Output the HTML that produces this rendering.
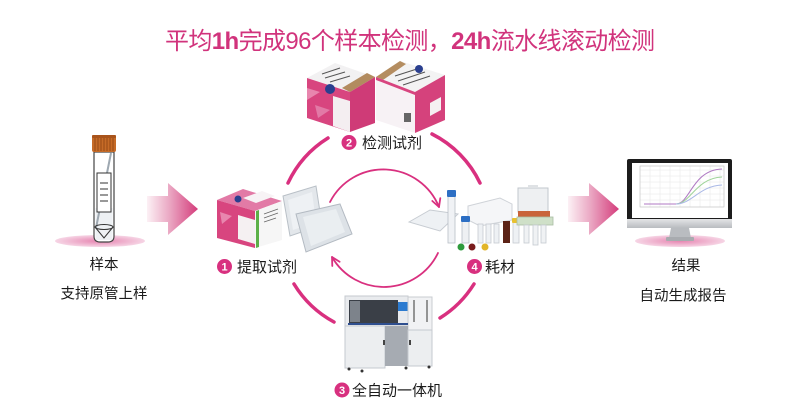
<!DOCTYPE html>
<html><head><meta charset="utf-8"><style>
html,body{margin:0;padding:0;background:#fff;}
svg{display:block;}
text{font-family:"Liberation Sans","Noto Sans CJK SC",sans-serif;}
</style></head><body>
<svg width="808" height="417" viewBox="0 0 808 417" xmlns="http://www.w3.org/2000/svg">
<defs>
 <linearGradient id="arr" x1="0" x2="1" y1="0" y2="0">
  <stop offset="0" stop-color="#fcf1f5"/>
  <stop offset="0.45" stop-color="#eaa6c2"/>
  <stop offset="1" stop-color="#d43c7b"/>
 </linearGradient>
 <radialGradient id="sh" cx="0.5" cy="0.5" r="0.5">
  <stop offset="0" stop-color="#e684b0"/>
  <stop offset="1" stop-color="#f6d5e5"/>
 </radialGradient>
 <linearGradient id="chin" x1="0" x2="0" y1="0" y2="1">
  <stop offset="0" stop-color="#e4e5e7"/>
  <stop offset="1" stop-color="#b9bcc0"/>
 </linearGradient>
</defs>

<!-- Title -->
<text x="165" y="49" font-size="24" fill="#d1337c" textLength="490" lengthAdjust="spacing">平均<tspan font-weight="bold">1h</tspan>完成96个样本检测，<tspan font-weight="bold">24h</tspan>流水线滚动检测</text>

<!-- Sample tube -->
<ellipse cx="100" cy="241" rx="45" ry="6" fill="url(#sh)"/>
<path d="M94,152 L94,236 Q94,242 100,242 L108,242 Q114,242 114,236 L114,152 Z" fill="#fff" stroke="#444" stroke-width="1.2"/>
<rect x="95.5" y="208" width="17" height="32" fill="#eef1f4"/>
<line x1="111" y1="153" x2="96" y2="228" stroke="#9ea8b1" stroke-width="2"/>
<rect x="97" y="173" width="14" height="39" fill="#fff" stroke="#333" stroke-width="1"/>
<g stroke="#333" stroke-width="1">
 <line x1="100" y1="183" x2="108" y2="183"/>
 <line x1="100" y1="189" x2="108" y2="189"/>
 <line x1="100" y1="195" x2="108" y2="195"/>
 <line x1="100" y1="201" x2="108" y2="201"/>
</g>
<ellipse cx="104" cy="227" rx="9" ry="2.5" fill="none" stroke="#333" stroke-width="1"/>
<polyline points="95,227 104,238 113,227" fill="none" stroke="#333" stroke-width="1"/>
<rect x="92" y="135" width="24" height="17" rx="2" fill="#c66b27"/>
<g stroke="#8a4211" stroke-width="0.8">
 <line x1="95" y1="138" x2="95" y2="151"/><line x1="98" y1="138" x2="98" y2="151"/>
 <line x1="101" y1="138" x2="101" y2="151"/><line x1="104" y1="138" x2="104" y2="151"/>
 <line x1="107" y1="138" x2="107" y2="151"/><line x1="110" y1="138" x2="110" y2="151"/>
 <line x1="113" y1="138" x2="113" y2="151"/>
</g>
<rect x="92" y="135" width="24" height="3" rx="1" fill="#a9541b"/>

<text x="104" y="269.5" font-size="14.5" fill="#1a1a1a" text-anchor="middle">样本</text>
<text x="104" y="298.5" font-size="14.5" fill="#1a1a1a" text-anchor="middle">支持原管上样</text>

<!-- Big arrows -->
<path d="M147,196 L168,196 L168,183 L198,209 L168,235 L168,222 L147,222 Z" fill="url(#arr)"/>
<path d="M568,196 L589,196 L589,183 L619,209 L589,235 L589,222 L568,222 Z" fill="url(#arr)"/>

<!-- Outer arcs -->
<g fill="none" stroke="#d9307f" stroke-width="3.5" stroke-linecap="round">
 <path d="M288,183 A106,106 0 0 1 328,138"/>
 <path d="M432,134 A106,106 0 0 1 480,183"/>
 <path d="M474,284 A106,106 0 0 1 440,318"/>
 <path d="M334,322 A106,106 0 0 1 294,284"/>
</g>
<!-- Inner arcs -->
<g fill="none" stroke="#d9307f" stroke-width="1.8" stroke-linecap="round" stroke-linejoin="round">
 <path d="M330,202 A60,60 0 0 1 439,207"/>
 <polyline points="440.3,198.1 439,207 432.3,201"/>
 <path d="M438,253 A60,60 0 0 1 332,257"/>
 <polyline points="332.3,266 332,257 339.6,261.8"/>
</g>

<!-- Box 2 (detection kits) -->
<polygon points="307,78 335,63 375,77 350,92" fill="#f2f1f2"/>
<polygon points="342,88 350,92 375,77 367,73" fill="#b28b5f"/>
<g stroke="#555" stroke-width="1">
 <line x1="322" y1="74" x2="340" y2="68"/><line x1="325" y1="78" x2="345" y2="72"/><line x1="330" y1="82" x2="350" y2="76"/>
</g>
<polygon points="307,78 350,92 350,132 307,118" fill="#d8457f"/>
<polygon points="307,88 320,92 307,100" fill="#e886ae"/>
<polygon points="315,105 330,110 318,118" fill="#e27aa6"/>
<polygon points="333,96 350,101 350,132 333,126" fill="#f4eef1"/>
<circle cx="330" cy="89" r="5" fill="#2a3f8f"/>
<polygon points="350,92 375,77 375,123 350,132" fill="#cf3b77"/>
<polygon points="376,77 400,61 445,75 415,92" fill="#f3f3f3"/>
<polygon points="376,77 383,80 406,64 400,61" fill="#b48d60"/>
<g stroke="#555" stroke-width="1">
 <line x1="395" y1="76" x2="420" y2="68"/><line x1="398" y1="81" x2="425" y2="72"/><line x1="403" y1="85" x2="430" y2="76"/>
</g>
<circle cx="419" cy="69" r="4" fill="#2a3f8f"/>
<polygon points="376,77 415,92 415,133 376,120" fill="#f7f2f5"/>
<polygon points="376,77 415,92 415,95 376,80" fill="#d8457f"/>
<rect x="404" y="113" width="7" height="9" fill="#666"/>
<polygon points="415,92 445,75 445,120 415,133" fill="#d5427c"/>
<polygon points="430,103 441,97 441,110 430,116" fill="#f5f0f2"/>

<!-- Box 1 (extraction kit) and trays -->
<polygon points="283,196 316,186 322,225 290,236" fill="#e3e7eb" stroke="#b9c0c7" stroke-width="1"/>
<polygon points="288,200 312,192 316,222 293,230" fill="#eef1f4"/>
<polygon points="296,214 340,204 352,234 306,252" fill="#dde2e7" stroke="#b3bac2" stroke-width="1"/>
<polygon points="303,217 336,209 345,232 311,246" fill="#eaeef1"/>
<polygon points="217,200 243,189 282,201 255,211" fill="#e27aa6"/>
<polygon points="243,198 262,191 275,196 256,203" fill="#f7f3f5"/>
<circle cx="238" cy="199" r="3.5" fill="#2a3f8f"/>
<polygon points="217,200 255,211 255,248 217,238" fill="#d8457f"/>
<polygon points="220,212 232,216 222,224" fill="#e886ae"/>
<polygon points="238,215 255,220 255,244 238,239" fill="#f5f0f2"/>
<polygon points="255,211 282,201 282,240 255,248" fill="#f6f6f6"/>
<polygon points="256,211 259,210 259,247 256,248" fill="#5db048"/>
<g stroke="#666" stroke-width="0.8">
 <line x1="264" y1="214" x2="278" y2="209"/><line x1="264" y1="218" x2="278" y2="213"/><line x1="264" y1="222" x2="276" y2="218"/>
</g>

<!-- Consumables -->
<polygon points="409,222 430,210 458,214 440,231" fill="#eef1f4" stroke="#c7ccd2" stroke-width="1"/>
<rect x="448" y="195" width="7" height="48" fill="#f0f2f5" stroke="#b8bec6" stroke-width="0.8"/>
<rect x="447" y="190" width="9" height="7" rx="1" fill="#2d6fc4"/>
<polygon points="468,206 500,198 512,204 512,220 480,226 468,220" fill="#f5f6f8" stroke="#cfd3d8" stroke-width="1"/>
<rect x="462" y="221" width="7" height="22" fill="#eef0f3" stroke="#b8bec6" stroke-width="0.8"/>
<rect x="461" y="216" width="9" height="6" rx="1" fill="#2d6fc4"/>
<g fill="#eef1f4" stroke="#c5cad0" stroke-width="0.8">
 <rect x="478" y="224" width="5" height="19"/><rect x="486" y="224" width="5" height="19"/><rect x="494" y="224" width="5" height="19"/>
</g>
<rect x="503" y="221" width="7" height="22" fill="#5c2316"/>
<rect x="513" y="222" width="6" height="21" fill="#eef1f4" stroke="#c5cad0" stroke-width="0.8"/>
<rect x="512" y="218" width="8" height="5" rx="1" fill="#e8c130"/>
<rect x="518" y="188" width="30" height="24" fill="#eef0f2" stroke="#c2c7cd" stroke-width="1"/>
<rect x="528" y="185" width="10" height="3" fill="#dfe2e5"/>
<rect x="518" y="211" width="32" height="6" fill="#c9643a"/>
<rect x="517" y="217" width="36" height="8" fill="#cfe0c8" stroke="#a9bda3" stroke-width="0.8"/>
<g fill="#f0f2f4" stroke="#c5cad0" stroke-width="0.8">
 <rect x="524" y="225" width="5" height="18"/><rect x="533" y="225" width="5" height="20"/><rect x="541" y="225" width="5" height="18"/>
</g>
<circle cx="461" cy="247" r="3.5" fill="#2e9b3c"/>
<circle cx="472" cy="247" r="3.5" fill="#7a1c1c"/>
<circle cx="485" cy="247" r="3.5" fill="#e2b528"/>

<!-- Machine -->
<rect x="345" y="296" width="63" height="30" fill="#e9ebee" stroke="#c5c9cf" stroke-width="1"/>
<rect x="349" y="300" width="49" height="23" fill="#3a3f47"/>
<rect x="350" y="301" width="10" height="21" fill="#7d838b"/>
<rect x="398" y="302" width="10" height="9" fill="#2c7bd0"/>
<rect x="408" y="297" width="24" height="33" fill="#f1f2f4" stroke="#c9ccd1" stroke-width="1"/>
<line x1="414" y1="300" x2="414" y2="322" stroke="#555" stroke-width="1.2"/>
<line x1="427" y1="300" x2="427" y2="322" stroke="#555" stroke-width="1.2"/>
<rect x="348" y="323" width="60" height="2" fill="#2f4f8f"/>
<rect x="345" y="326" width="40" height="42" fill="#eceef0" stroke="#c5c9cf" stroke-width="1"/>
<rect x="385" y="326" width="23" height="40" fill="#a6abb2"/>
<rect x="408" y="330" width="24" height="36" fill="#eceef0" stroke="#c5c9cf" stroke-width="1"/>
<rect x="383" y="340" width="2" height="5" fill="#444"/>
<rect x="409" y="340" width="2" height="5" fill="#444"/>
<g fill="#333">
 <circle cx="349" cy="369" r="1.5"/><circle cx="362" cy="371" r="1.5"/><circle cx="406" cy="368" r="1.5"/><circle cx="429" cy="367" r="1.5"/>
</g>

<!-- Monitor -->
<ellipse cx="680" cy="241" rx="45" ry="6" fill="url(#sh)"/>
<rect x="627" y="159" width="105" height="64" rx="2" fill="#1c1c1c"/>
<rect x="632" y="163" width="96" height="55" fill="#fff"/>
<g stroke="#e6e6e6" stroke-width="0.5">
 <line x1="640" y1="170" x2="724" y2="170"/><line x1="640" y1="176" x2="724" y2="176"/>
 <line x1="640" y1="182" x2="724" y2="182"/><line x1="640" y1="188" x2="724" y2="188"/>
 <line x1="640" y1="194" x2="724" y2="194"/><line x1="640" y1="200" x2="724" y2="200"/>
 <line x1="650" y1="166" x2="650" y2="207"/><line x1="660" y1="166" x2="660" y2="207"/>
 <line x1="670" y1="166" x2="670" y2="207"/><line x1="680" y1="166" x2="680" y2="207"/>
 <line x1="690" y1="166" x2="690" y2="207"/><line x1="700" y1="166" x2="700" y2="207"/>
 <line x1="710" y1="166" x2="710" y2="207"/><line x1="720" y1="166" x2="720" y2="207"/>
</g>
<rect x="640" y="166" width="84" height="41" fill="none" stroke="#bbb" stroke-width="0.6"/>
<g fill="none" stroke-width="1">
 <path d="M644,204 L676,204 C690,204 692,170 722,169" stroke="#b07ac4"/>
 <path d="M676,204 C690,204 696,178 722,177" stroke="#9fd49a"/>
 <path d="M676,204 C692,204 699,186 722,185" stroke="#a9b8e6"/>
</g>
<rect x="627" y="219" width="105" height="9" fill="url(#chin)"/>
<polygon points="671,228 689,228 691,238 669,238" fill="#b9bcc0"/>
<rect x="666" y="237" width="28" height="4" rx="1" fill="#a8abaf"/>

<text x="686" y="270.5" font-size="14.5" fill="#1a1a1a" text-anchor="middle">结果</text>
<text x="683" y="300.5" font-size="14.5" fill="#1a1a1a" text-anchor="middle">自动生成报告</text>

<!-- Numbered labels -->
<g font-weight="bold" font-size="11" fill="#fff" text-anchor="middle">
 <circle cx="224.5" cy="266.5" r="7.5" fill="#d8307f"/>
 <text x="224.5" y="270.5">1</text>
 <circle cx="349" cy="142.5" r="7.5" fill="#d8307f"/>
 <text x="349" y="146.5">2</text>
 <circle cx="342" cy="390" r="7.5" fill="#d8307f"/>
 <text x="342" y="394">3</text>
 <circle cx="474.5" cy="266.5" r="7.5" fill="#d8307f"/>
 <text x="474.5" y="270.5">4</text>
</g>
<g font-size="15" fill="#1a1a1a">
 <text x="237" y="272">提取试剂</text>
 <text x="362" y="148">检测试剂</text>
 <text x="352" y="395.5">全自动一体机</text>
 <text x="485" y="272">耗材</text>
</g>
</svg>
</body></html>
